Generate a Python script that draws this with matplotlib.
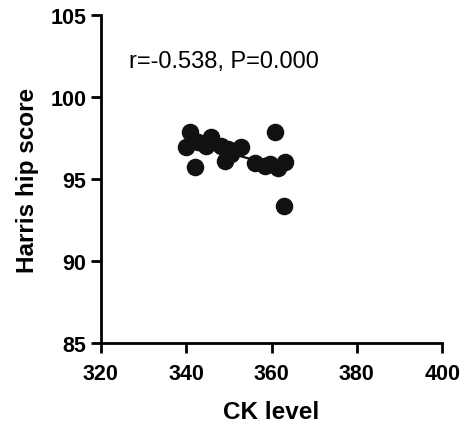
import numpy as np
import matplotlib
matplotlib.use('Agg')
import matplotlib.pyplot as plt

plt.rcParams['font.family'] = ['Liberation Sans', 'DejaVu Sans']

# values
ck_level = [339.9, 341.0, 342.0, 342.8, 344.7, 345.7, 348.2, 349.0, 349.8,
            350.5, 352.9, 356.1, 358.4, 359.6, 360.7, 361.5, 363.1, 362.9]
harris = [96.97, 97.88, 95.71, 97.24, 97.03, 97.58, 97.03, 96.12, 96.83,
          96.52, 96.97, 95.96, 95.81, 95.90, 97.88, 95.65, 96.02, 93.34]
note = "r=-0.538, P=0.000"

x = np.array(ck_level)
y = np.array(harris)
k, b = np.polyfit(x, y, 1)
xs = np.array([x.min(), x.max()])

fig = plt.figure(figsize=(4.65, 4.27), dpi=100)
ax = fig.add_axes([0.217, 0.194, 0.734, 0.769])

ax.plot(xs, k * xs + b, color='#111111', lw=1.6, zorder=2)
ax.scatter(x, y, s=135, color='#111111', zorder=3, clip_on=False)

ax.set_xlim(320, 400)
ax.set_ylim(85, 105)
ax.set_xticks([320, 340, 360, 380, 400])
ax.set_yticks([85, 90, 95, 100, 105])

for s in ['top', 'right']:
    ax.spines[s].set_visible(False)
for s in ['left', 'bottom']:
    ax.spines[s].set_linewidth(2)
ax.tick_params(width=2, length=7, labelsize=15.5, direction='out')
ax.tick_params(axis='x', pad=7)
for lab in ax.get_xticklabels() + ax.get_yticklabels():
    lab.set_fontweight('bold')

ax.set_xlabel('CK level', fontsize=17.5, fontweight='bold', labelpad=12)
ax.set_ylabel('Harris hip score', fontsize=17.5, fontweight='bold', labelpad=8)
ax.text(326.5, 102.2, note, fontsize=17, va='center', ha='left')

fig.savefig('out.png', dpi=100)
